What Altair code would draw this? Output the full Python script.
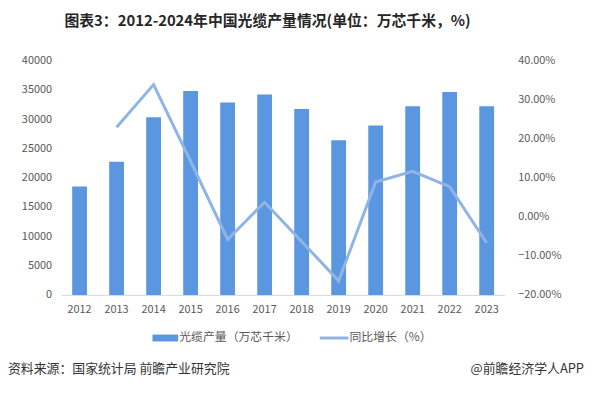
import altair as alt
import pandas as pd

years = ["2012", "2013", "2014", "2015", "2016", "2017", "2018", "2019", "2020", "2021", "2022", "2023"]
output = [18500, 22700, 30300, 34800, 32800, 34200, 31700, 26400, 28900, 32200, 34600, 32200]
growth = [None, 0.229, 0.338, 0.142, -0.058, 0.037, -0.063, -0.164, 0.089, 0.116, 0.077, -0.067]

title_text = "图表3：2012-2024年中国光缆产量情况(单位：万芯千米，%)"
legend_bar = "光缆产量（万芯千米）"
legend_line = "同比增长（%）"
source_text = "资料来源：国家统计局 前瞻产业研究院"
brand_text = "@前瞻经济学人APP"

df = pd.DataFrame({"year": years, "output": output, "growth": growth})

FONT = "Noto Sans CJK SC"
BAR = "#5b97e1"
LINE = "#8fb5e6"

W, H = 448, 237

xenc = alt.X("year:N", sort=years, title=None,
             scale=alt.Scale(paddingInner=0.6, paddingOuter=0.29),
             axis=alt.Axis(labelAngle=0, ticks=False, domainColor="#d9d9d9",
                           labelPadding=9, labelFontSize=11, labelColor="#595959",
                           labelFont=FONT, grid=False))

bars = alt.Chart(df).mark_bar(color=BAR).encode(
    x=xenc,
    y=alt.Y("output:Q", title=None,
            scale=alt.Scale(domain=[0, 40000], nice=False),
            axis=alt.Axis(values=list(range(0, 40001, 5000)), format="d", ticks=False,
                          domain=False, grid=False,
                          labelPadding=10, labelFontSize=11,
                          labelColor="#595959", labelFont=FONT)),
)

line = alt.Chart(df).transform_filter("datum.growth != null").mark_line(
    color=LINE, strokeWidth=3
).encode(
    x=alt.X("year:N", sort=years),
    y=alt.Y("growth:Q", title=None,
            scale=alt.Scale(domain=[-0.2, 0.4], nice=False),
            axis=alt.Axis(orient="right", format=".2%",
                          values=[-0.2, -0.1, 0, 0.1, 0.2, 0.3, 0.4],
                          ticks=False, domain=False,
                          grid=False, labelPadding=13,
                          labelFontSize=11, labelColor="#595959", labelFont=FONT)),
)

anno = pd.DataFrame({"a": [1]})

# white masks over the plot's side edges
mask_l = alt.Chart(anno).mark_rect(color="white").encode(
    x=alt.value(-2), x2=alt.value(2), y=alt.value(-2), y2=alt.value(H - 1))
mask_r = alt.Chart(anno).mark_rect(color="white").encode(
    x=alt.value(W - 2), x2=alt.value(W + 2), y=alt.value(-2), y2=alt.value(H - 1))

title = alt.Chart(anno).mark_text(
    text=title_text, font=FONT, fontSize=15, fontWeight="bold", color="#262626",
    align="left", baseline="middle"
).encode(x=alt.value(3), y=alt.value(-40))

leg_rect = alt.Chart(anno).mark_rect(color=BAR).encode(
    x=alt.value(92), x2=alt.value(118), y=alt.value(277), y2=alt.value(284))
leg_t1 = alt.Chart(anno).mark_text(
    text=legend_bar, font=FONT, fontSize=12, color="#595959", align="left", baseline="middle"
).encode(x=alt.value(119), y=alt.value(280))
leg_line = alt.Chart(anno).mark_rect(color=LINE).encode(
    x=alt.value(261), x2=alt.value(290), y=alt.value(279), y2=alt.value(282))
leg_t2 = alt.Chart(anno).mark_text(
    text=legend_line, font=FONT, fontSize=12, color="#595959", align="left", baseline="middle"
).encode(x=alt.value(291), y=alt.value(280))

src = alt.Chart(anno).mark_text(
    text=source_text, font=FONT, fontSize=13, color="#333333", align="left", baseline="middle"
).encode(x=alt.value(-54), y=alt.value(312))
brand = alt.Chart(anno).mark_text(
    text=brand_text, font=FONT, fontSize=13, color="#333333", align="right", baseline="middle"
).encode(x=alt.value(528), y=alt.value(312))

chart = alt.layer(
    bars, line, mask_l, mask_r, title, leg_rect, leg_t1, leg_line, leg_t2, src, brand
).resolve_scale(y="independent").properties(
    width=W, height=H,
    background="white",
    autosize=alt.AutoSizeParams(type="none"),
    padding={"left": 54, "top": 51, "right": 80, "bottom": 85},
).configure_view(stroke="transparent", strokeWidth=0).configure_axisY(
    grid=False, domain=False, domainWidth=0
)

chart.save("out.html", embed_options={"renderer": "svg", "actions": False})
